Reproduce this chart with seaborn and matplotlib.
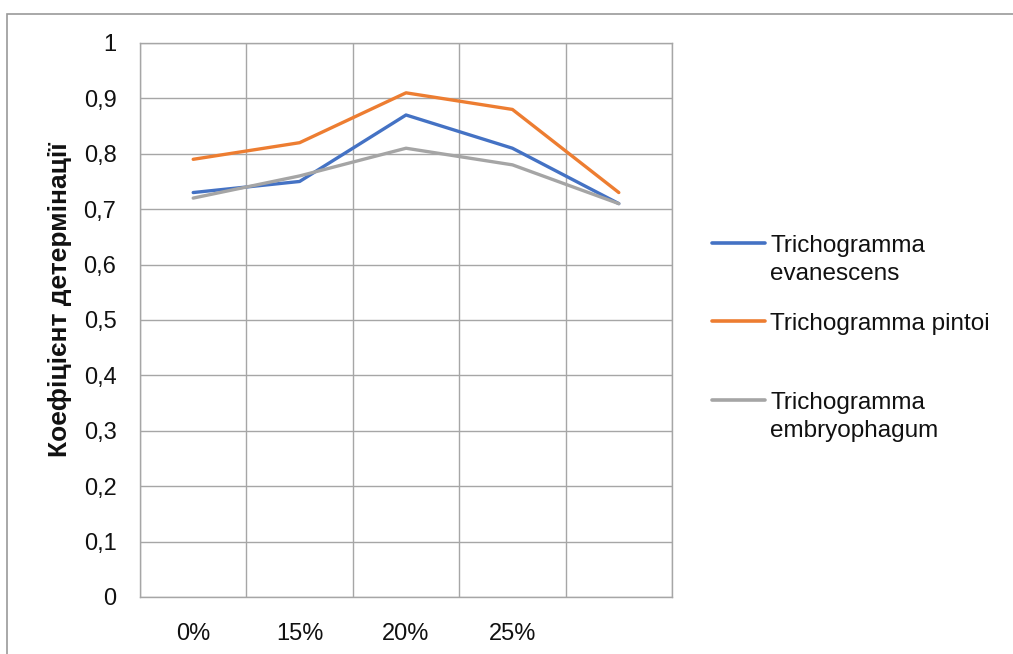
import pandas as pd
import matplotlib
matplotlib.use("Agg")
import matplotlib.pyplot as plt
from matplotlib.patches import Rectangle
import seaborn as sns

# доля (категорії осі X), п'ята мітка порожня
categories = ["0%", "15%", "20%", "25%", ""]
evanescens = [0.73, 0.75, 0.87, 0.81, 0.71]
pintoi = [0.79, 0.82, 0.91, 0.88, 0.73]
embryophagum = [0.72, 0.76, 0.81, 0.78, 0.71]
series_names = ["Trichogramma\nevanescens", "Trichogramma pintoi\n ",
                "Trichogramma\nembryophagum"]
y_ticks = [0, 0.1, 0.2, 0.3, 0.4, 0.5, 0.6, 0.7, 0.8, 0.9, 1]

df = pd.DataFrame({
    "x": list(range(len(categories))) * 3,
    "value": evanescens + pintoi + embryophagum,
    "species": [s for s in series_names for _ in categories],
})

sns.set_style("white")
plt.rcParams["font.family"] = ["Liberation Sans", "DejaVu Sans"]
plt.rcParams["text.color"] = "#111111"
plt.rcParams["xtick.color"] = "#111111"
plt.rcParams["ytick.color"] = "#111111"
plt.rcParams["axes.labelcolor"] = "#111111"

fig = plt.figure(figsize=(10.13, 6.54), dpi=100)
ax = fig.add_axes([0.1382, 0.0872, 0.5252, 0.8471])

palette = ["#4472C4", "#ED7D31", "#A5A5A5"]
sns.lineplot(data=df, x="x", y="value", hue="species", palette=palette,
             linewidth=2.4, ax=ax, legend=True)

ax.set_xlim(-0.5, len(categories) - 0.5)
ax.set_ylim(0, 1)
ax.set_xticks(range(len(categories)))
ax.set_xticklabels(categories, fontsize=17)
ax.set_xticks([i - 0.5 for i in range(len(categories) + 1)], minor=True)
ax.set_yticks(y_ticks)
ax.set_yticklabels([f"{v:g}".replace(".", ",") for v in y_ticks], fontsize=17)
ax.tick_params(axis="both", which="both", length=0)
ax.tick_params(axis="x", pad=19)
ax.tick_params(axis="y", pad=17)
ax.grid(True, axis="y", which="major", color="#A6A6A6", linewidth=1)
ax.grid(True, axis="x", which="minor", color="#A6A6A6", linewidth=1)
ax.set_axisbelow(True)
for sp in ax.spines.values():
    sp.set_color("#A6A6A6")
    sp.set_linewidth(1)

ax.set_xlabel("")
ax.set_ylabel("Коефіцієнт детермінації", fontsize=19, fontweight="bold")
ax.yaxis.set_label_coords(-0.127, 0.536)

leg = ax.legend(loc="upper left", bbox_to_anchor=(712 / 1013, 1 - 235 / 654),
                bbox_transform=fig.transFigure, frameon=False,
                fontsize=17.5, handlelength=2.2, handletextpad=0.2,
                labelspacing=1.15, borderpad=0, borderaxespad=0)
for t in leg.get_texts():
    t.set_linespacing(1.38)
# маркер легенди на рівні першого рядка підпису
for line in leg.get_lines():
    line.set_linewidth(2.6)
    line.set_ydata([y + 12.5 for y in line.get_ydata()])

# рамка скану
fig.add_artist(Rectangle((7 / 1013, -0.05), 1.1, 1 - 14 / 654 + 0.05,
                         transform=fig.transFigure, fill=False,
                         edgecolor="#9A9A9A", linewidth=1.2))

fig.savefig("out.png", dpi=100)
